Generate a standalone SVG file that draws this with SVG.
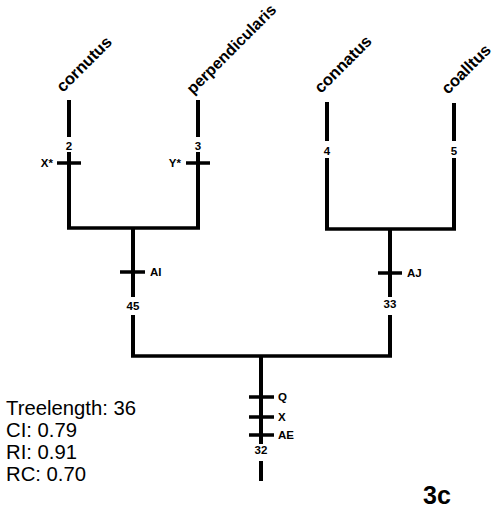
<svg xmlns="http://www.w3.org/2000/svg" width="496" height="514" viewBox="0 0 496 514">
<style>
.br{stroke:#000;stroke-width:4;fill:none;stroke-linecap:butt}
.hb{stroke:#000;stroke-width:3.5;fill:none}
.tk{stroke:#000;stroke-width:3.5;fill:none}
.tx{font-family:"Liberation Sans",Arial,sans-serif;font-weight:bold;font-size:16.5px;fill:#000}
.num{font-family:"Liberation Sans",Arial,sans-serif;font-weight:bold;font-size:11.5px;fill:#000;text-anchor:middle}
.ch{font-family:"Liberation Sans",Arial,sans-serif;font-weight:bold;font-size:11.5px;fill:#000}
.st{font-family:"Liberation Sans",Arial,sans-serif;font-size:20.3px;fill:#000}
</style>
<rect width="496" height="514" fill="#fff"/>
<g id="connectors">
  <!-- cornutus -->
  <path class="br" d="M69 100V137M69 152V228"/>
  <!-- perpendicularis -->
  <path class="br" d="M198 100V137M198 152V228"/>
  <path class="hb" d="M67 228H200"/>
  <!-- connatus -->
  <path class="br" d="M327 102V141M327 158V229"/>
  <!-- coalltus -->
  <path class="br" d="M454 103V141M454 158V229"/>
  <path class="hb" d="M325 229H456"/>
  <!-- internal left -->
  <path class="br" d="M133 228V297M133 315V356"/>
  <!-- internal right -->
  <path class="br" d="M390 229V297M390 315V356"/>
  <path class="hb" d="M131 356H392"/>
  <!-- root -->
  <path class="br" d="M261 356V444M261 461V481"/>
</g>
<g id="node-cornutus">
  <text class="tx" transform="translate(63 93) rotate(-45)">cornutus</text>
  <text class="num" x="69" y="150">2</text>
  <path class="tk" d="M57 163H81"/>
  <text class="ch" x="53" y="167" text-anchor="end">X*</text>
</g>
<g id="node-perpendicularis">
  <text class="tx" style="font-size:16px" transform="translate(193 95) rotate(-45)">perpendicularis</text>
  <text class="num" x="198" y="150">3</text>
  <path class="tk" d="M186 163H210"/>
  <text class="ch" x="181" y="167" text-anchor="end">Y*</text>
</g>
<g id="node-connatus">
  <text class="tx" transform="translate(321 94) rotate(-45)">connatus</text>
  <text class="num" x="327" y="155">4</text>
</g>
<g id="node-coalltus">
  <text class="tx" transform="translate(448 95) rotate(-45)">coalltus</text>
  <text class="num" x="454" y="155">5</text>
</g>
<g id="node-45">
  <path class="tk" d="M120 272H145"/>
  <text class="ch" x="150" y="276">AI</text>
  <text class="num" x="133" y="310">45</text>
</g>
<g id="node-33">
  <path class="tk" d="M378 273H402"/>
  <text class="ch" x="407" y="277">AJ</text>
  <text class="num" x="390" y="308">33</text>
</g>
<g id="node-32">
  <path class="tk" d="M249 397H274M249 417H274M249 435H274"/>
  <text class="ch" x="278" y="401">Q</text>
  <text class="ch" x="278" y="421">X</text>
  <text class="ch" x="278" y="439">AE</text>
  <text class="num" x="261" y="454">32</text>
</g>
<g id="stats">
  <text class="st" x="6" y="415">Treelength: 36</text>
  <text class="st" x="6" y="437">CI: 0.79</text>
  <text class="st" x="6" y="459">RI: 0.91</text>
  <text class="st" x="6" y="481">RC: 0.70</text>
</g>
<text x="423" y="504" font-family="Liberation Sans,Arial,sans-serif" font-weight="bold" font-size="25">3c</text>
</svg>
